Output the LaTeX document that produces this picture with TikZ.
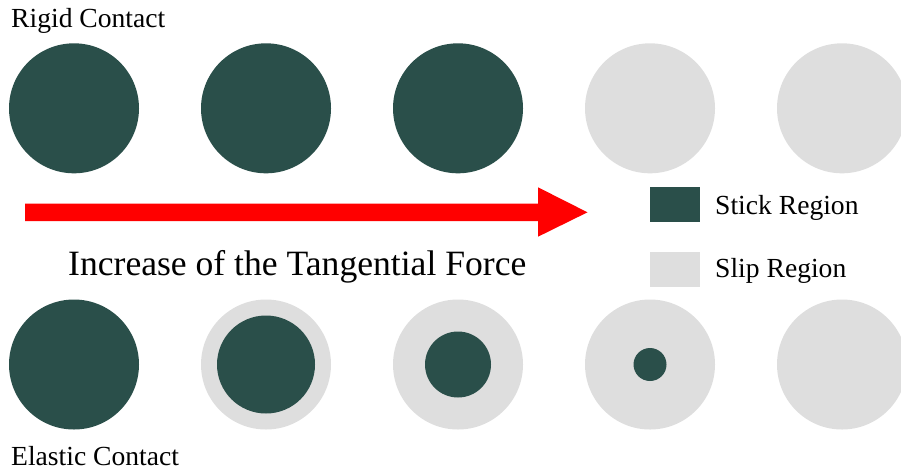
\documentclass[tikz,border=0pt]{standalone}
\usepackage{fontspec}
\setmainfont{Liberation Serif}
\definecolor{stick}{HTML}{2A4F4A}
\definecolor{slip}{HTML}{DEDEDE}
\begin{document}
\begin{tikzpicture}[x=1pt,y=-1pt,
  disc/.style={circle,inner sep=0pt,minimum size=#1,draw=none},
  lbl/.style={anchor=base west,inner sep=0pt,font=\fontsize{27.6}{30}\selectfont},
  big/.style={anchor=base west,inner sep=0pt,font=\fontsize{35.6}{40}\selectfont}]
\useasboundingbox (0,0) rectangle (901,475);
% top row: rigid contact
\foreach \i/\c/\x in {1/stick/74,2/stick/266,3/stick/458,4/slip/650,5/slip/842}{
  \node[disc=130pt,fill=\c] (t\i) at (\x,108.3) {};
}
% bottom row: elastic contact
\node[disc=130pt,fill=stick] (b1) at (74,364.5) {};
\node[disc=130pt,fill=slip] (b2) at (266,364.5) {};
\node[disc=98pt,fill=stick] (b2i) at (266,364.5) {};
\node[disc=130pt,fill=slip] (b3) at (458,364.5) {};
\node[disc=66pt,fill=stick] (b3i) at (458,364.5) {};
\node[disc=130pt,fill=slip] (b4) at (650,364.5) {};
\node[disc=33pt,fill=stick] (b4i) at (650,364.5) {};
\node[disc=130pt,fill=slip] (b5) at (842,364.5) {};
% labels
\node[lbl] (rigid) at (11,27.7) {Rigid Contact};
\node[lbl] (elastic) at (11,465) {Elastic Contact};
\node[big] (incr) at (68,275) {Increase of the Tangential Force};
% arrow
\fill[red] (25,203.5) -- (538,203.5) -- (538,187.3) -- (587.5,212.3)
  -- (538,236.7) -- (538,221) -- (25,221) -- cycle;
% legend
\node[draw=none,fill=stick,minimum width=50pt,minimum height=35pt,inner sep=0pt] (lstick) at (674.5,204.5) {};
\node[draw=none,fill=slip,minimum width=50pt,minimum height=35pt,inner sep=0pt] (lslip) at (674.5,269) {};
\node[lbl] (tstick) at (715,214.3) {Stick Region};
\node[lbl] (tslip) at (715,277.7) {Slip Region};
\end{tikzpicture}
\end{document}
